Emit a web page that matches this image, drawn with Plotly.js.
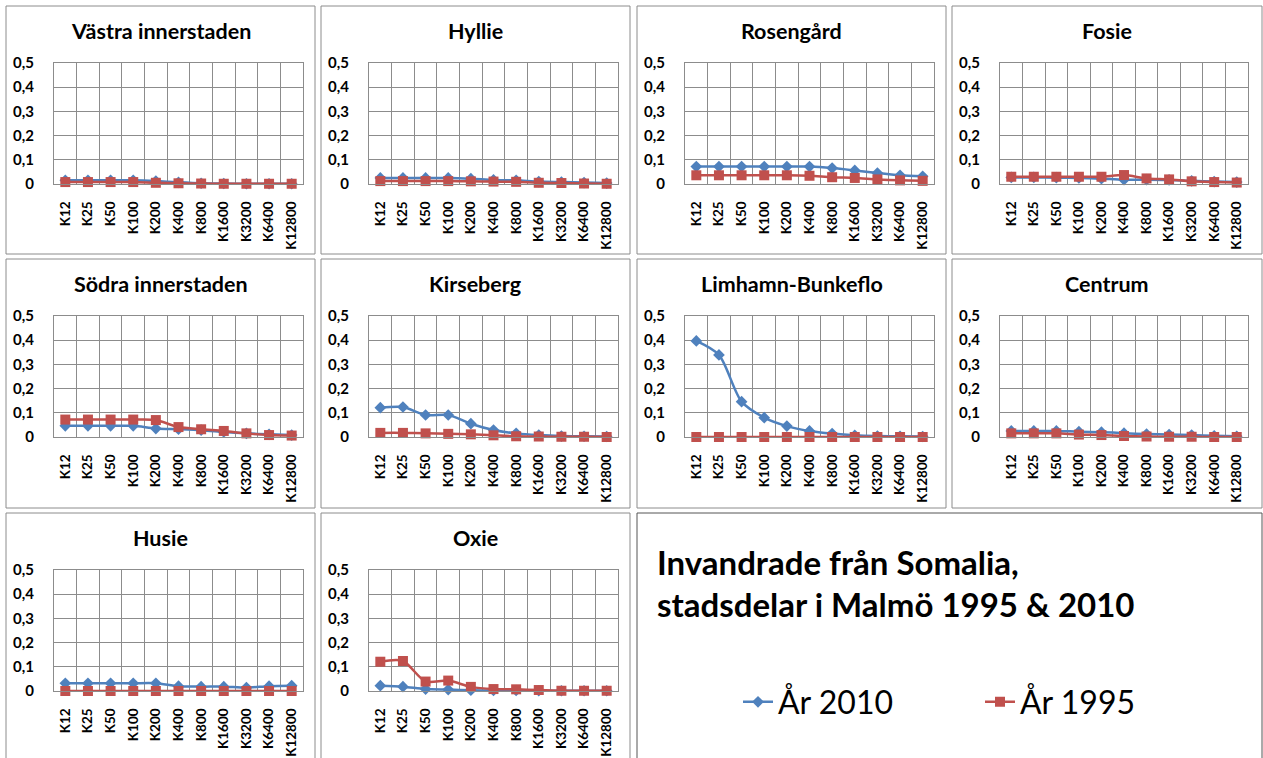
<!DOCTYPE html>
<html>
<head>
<meta charset="utf-8">
<script src="https://cdn.plot.ly/plotly-3.0.1.min.js"></script>
<style>html,body{margin:0;padding:0;background:#fff;}#chart{width:1263px;height:758px;}</style>
</head>
<body>
<div id="chart"></div>
<script>
const categories = ['K12','K25','K50','K100','K200','K400','K800','K1600','K3200','K6400','K12800'];
const districts = ['Västra innerstaden','Hyllie','Rosengård','Fosie','Södra innerstaden','Kirseberg','Limhamn-Bunkeflo','Centrum','Husie','Oxie'];
const seriesNames = ['År 2010','År 1995'];

const vastra2010   = [0.015,0.015,0.015,0.015,0.012,0.007,0.003,0.002,0.001,0.001,0.001];
const vastra1995   = [0.008,0.008,0.008,0.008,0.005,0.003,0.002,0.001,0.001,0.001,0.001];
const hyllie2010   = [0.025,0.025,0.025,0.025,0.022,0.017,0.015,0.010,0.008,0.006,0.004];
const hyllie1995   = [0.012,0.012,0.012,0.012,0.011,0.010,0.009,0.005,0.004,0.002,0.001];
const rosengard2010= [0.072,0.072,0.072,0.072,0.072,0.072,0.066,0.056,0.045,0.036,0.032];
const rosengard1995= [0.036,0.036,0.036,0.036,0.036,0.034,0.028,0.025,0.019,0.015,0.013];
const fosie2010    = [0.027,0.027,0.026,0.025,0.022,0.018,0.018,0.017,0.013,0.010,0.008];
const fosie1995    = [0.030,0.030,0.030,0.030,0.030,0.037,0.023,0.019,0.011,0.008,0.006];
const sodra2010    = [0.046,0.046,0.046,0.046,0.035,0.032,0.028,0.021,0.015,0.011,0.008];
const sodra1995    = [0.072,0.072,0.072,0.072,0.070,0.041,0.032,0.025,0.015,0.008,0.006];
const kirseberg2010= [0.121,0.124,0.091,0.091,0.055,0.029,0.015,0.008,0.004,0.003,0.002];
const kirseberg1995= [0.017,0.017,0.015,0.013,0.011,0.007,0.003,0.002,0.001,0.001,0.000];
const limhamn2010  = [0.397,0.339,0.146,0.080,0.045,0.025,0.014,0.007,0.004,0.003,0.002];
const limhamn1995  = [0,0,0,0,0,0,0,0,0,0,0];
const centrum2010  = [0.025,0.025,0.025,0.022,0.020,0.016,0.012,0.010,0.008,0.005,0.003];
const centrum1995  = [0.015,0.015,0.015,0.010,0.008,0.004,0.002,0.001,0.001,0.000,0.000];
const husie2010    = [0.032,0.032,0.032,0.032,0.032,0.020,0.018,0.018,0.014,0.020,0.022];
const husie1995    = [0,0,0,0,0,0,0,0,0,0,0];
const oxie2010     = [0.022,0.018,0.008,0.006,0.003,0.002,0.002,0.001,0.001,0.001,0.001];
const oxie1995     = [0.121,0.124,0.039,0.043,0.017,0.008,0.007,0.004,0.001,0.001,0.001];

const values2010 = [vastra2010,hyllie2010,rosengard2010,fosie2010,sodra2010,kirseberg2010,limhamn2010,centrum2010,husie2010,oxie2010];
const values1995 = [vastra1995,hyllie1995,rosengard1995,fosie1995,sodra1995,kirseberg1995,limhamn1995,centrum1995,husie1995,oxie1995];

const W = 1263, H = 758;
const FONT = 'Lato, "Open Sans", sans-serif';
const GRID = '#8c8c8c';
const BLUE = '#4f81bd', RED = '#c0504d';
const colX = [[54,303],[369,618],[685,934],[1000,1248]];
const rowY = [[63,184],[316,437],[570,691]];
const panelX = [[6,315],[321,630],[637,946],[952,1262]];
const panelY = [[6,254],[259,508],[513,762]];
const titleY = [31,284,538];

const traces = [];
const layout = {
  width: W, height: H,
  margin: {l:0,r:0,t:0,b:0},
  paper_bgcolor: '#fff', plot_bgcolor: '#fff',
  separators: ', ',
  font: {family: FONT, color: '#000'},
  showlegend: true,
  legend: {
    orientation: 'h', x: 738/W, xanchor: 'left', y: 1-702/H, yanchor: 'middle',
    font: {family: FONT, size: 32, color: '#000'},
    bgcolor: 'rgba(0,0,0,0)', itemwidth: 30, entrywidth: 197, traceorder: 'normal'
  },
  shapes: [], annotations: []
};

districts.forEach((name, i) => {
  const r = Math.floor(i/4), c = i % 4;
  const n = i + 1;
  const xa = 'xaxis' + (n===1?'':n), ya = 'yaxis' + (n===1?'':n);
  const xr = 'x' + (n===1?'':n), yr = 'y' + (n===1?'':n);
  layout[xa] = {
    domain: [colX[c][0]/W, colX[c][1]/W], anchor: yr,
    type: 'category', range: [-0.5, 10.5], tickson: 'boundaries',
    showgrid: true, gridcolor: GRID, gridwidth: 1,
    showline: true, linecolor: GRID, linewidth: 1, mirror: true,
    ticks: '', tickangle: -90, fixedrange: true, ticklabelstandoff: 11,
    tickfont: {family: FONT, size: 13.5, weight: 700, color: '#000'}
  };
  layout[ya] = {
    domain: [1-rowY[r][1]/H, 1-rowY[r][0]/H], anchor: xr,
    range: [0, 0.5], dtick: 0.1, tick0: 0,
    showgrid: true, gridcolor: GRID, gridwidth: 1, zeroline: false,
    showline: true, linecolor: GRID, linewidth: 1, mirror: true,
    ticks: '', fixedrange: true, ticklabelstandoff: 16,
    tickfont: {family: FONT, size: 15, weight: 700, color: '#000'}
  };
  layout.shapes.push({type:'rect', xref:'paper', yref:'paper',
    x0: panelX[c][0]/W, x1: panelX[c][1]/W, y0: 1-panelY[r][1]/H, y1: 1-panelY[r][0]/H,
    line: {color: GRID, width: 1}, fillcolor: 'rgba(0,0,0,0)', layer: 'below'});
  layout.annotations.push({xref:'paper', yref:'paper', x: (panelX[c][0]+panelX[c][1])/2/W, y: 1-titleY[r]/H,
    xanchor:'center', yanchor:'middle', showarrow:false, text: name,
    font: {family: FONT, size: 21.5, weight: 700, color: '#000'}});
  traces.push({type:'scatter', mode:'lines+markers', x: categories, y: values2010[i], xaxis: xr, yaxis: yr,
    name: seriesNames[0], legendgroup: 'a', showlegend: i===0, cliponaxis: false,
    line: {color: BLUE, width: 2.5, shape: 'spline', smoothing: 0.8},
    marker: {symbol: 'diamond', size: 9, color: BLUE}});
  traces.push({type:'scatter', mode:'lines+markers', x: categories, y: values1995[i], xaxis: xr, yaxis: yr,
    name: seriesNames[1], legendgroup: 'b', showlegend: i===0, cliponaxis: false,
    line: {color: RED, width: 2.5, shape: 'spline', smoothing: 0.8},
    marker: {symbol: 'square', size: 10, color: RED}});
});

// legend/title panel
layout.shapes.push({type:'rect', xref:'paper', yref:'paper',
  x0: 637/W, x1: 1262/W, y0: 1-762/H, y1: 1-513/H,
  line: {color: '#555', width: 1}, fillcolor: 'rgba(0,0,0,0)', layer: 'below'});
layout.annotations.push({xref:'paper', yref:'paper', x: 655/W, y: 1-562/H, xanchor:'left', yanchor:'middle',
  showarrow:false, text:'Invandrade från Somalia,', font:{family: FONT, size: 33, weight: 700, color:'#000'}});
layout.annotations.push({xref:'paper', yref:'paper', x: 655/W, y: 1-604/H, xanchor:'left', yanchor:'middle',
  showarrow:false, text:'stadsdelar i Malmö 1995 &amp; 2010', font:{family: FONT, size: 33, weight: 700, color:'#000'}});

Plotly.newPlot('chart', traces, layout, {staticPlot: true, displayModeBar: false});
</script>
</body>
</html>
